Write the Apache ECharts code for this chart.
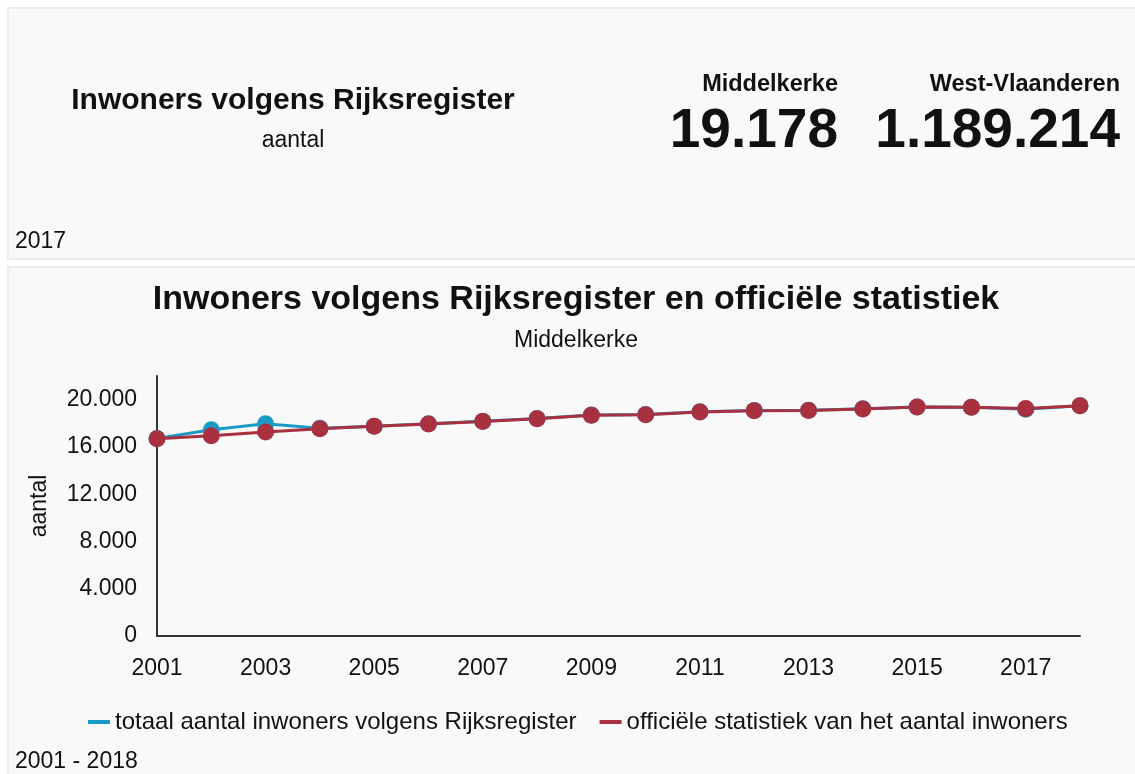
<!DOCTYPE html>
<html>
<head>
<meta charset="utf-8">
<script src="https://cdn.jsdelivr.net/npm/echarts@6/dist/echarts.min.js"></script>
<style>
  html, body { margin: 0; padding: 0; background: #fff; }
  #chart { width: 1135px; height: 774px; }
</style>
</head>
<body>
<div id="chart"></div>
<script>
var years = ['2001','2002','2003','2004','2005','2006','2007','2008','2009',
             '2010','2011','2012','2013','2014','2015','2016','2017','2018'];
// totaal aantal inwoners volgens Rijksregister
var rijksregister = [16720, 17450, 17950, 17580, 17750, 17950, 18180, 18410, 18690,
                     18750, 18970, 19080, 19100, 19220, 19385, 19355, 19178, 19490];
// officiele statistiek van het aantal inwoners
var officieel = [16700, 16950, 17260, 17540, 17740, 17940, 18160, 18390, 18670,
                 18730, 18950, 19070, 19090, 19210, 19380, 19350, 19240, 19490];
var kpiLabels = ['Middelkerke', 'West-Vlaanderen'];
var kpiValues = ['19.178', '1.189.214'];

var font = 'Liberation Sans, Arial, sans-serif';

function fmt(v) {
    return String(v).replace(/\B(?=(\d{3})+(?!\d))/g, '.');
}

// tekst met middelpunt op (x, y)
function txt(x, y, text, size, bold, align) {
    return {
        type: 'text', x: x, y: y + 2, z: 10,
        style: {
            text: text,
            font: (bold ? 'bold ' : '') + size + 'px ' + font,
            fill: '#111',
            align: align || 'center',
            verticalAlign: 'middle'
        }
    };
}

var chart = echarts.init(document.getElementById('chart'));
var option = {
    backgroundColor: '#ffffff',
    textStyle: { fontFamily: font },
    graphic: [
        { type: 'rect', z: -10, shape: { x: 8, y: 8, width: 1140, height: 251 },
          style: { fill: '#f9f9f9', stroke: '#ececec', lineWidth: 2 } },
        { type: 'rect', z: -10, shape: { x: 8, y: 267, width: 1140, height: 520 },
          style: { fill: '#f9f9f9', stroke: '#ececec', lineWidth: 2 } },
        txt(293, 99, 'Inwoners volgens Rijksregister', 30, true),
        txt(293, 139, 'aantal', 23, false),
        txt(838, 83, kpiLabels[0], 23.5, true, 'right'),
        txt(838, 130, kpiValues[0], 55, true, 'right'),
        txt(1120, 83, kpiLabels[1], 23.5, true, 'right'),
        txt(1120, 130, kpiValues[1], 55, true, 'right'),
        txt(15, 240, '2017', 23, false, 'left'),
        txt(576, 298, 'Inwoners volgens Rijksregister en officiële statistiek', 34, true),
        txt(576, 339, 'Middelkerke', 23, false),
        txt(15, 760, '2001 - 2018', 23, false, 'left')
    ],
    legend: {
        top: 705, left: 83, itemWidth: 22, itemHeight: 4, itemGap: 23,
        icon: 'rect',
        textStyle: { fontSize: 24, color: '#111', fontFamily: font },
        data: ['totaal aantal inwoners volgens Rijksregister', 'officiële statistiek van het aantal inwoners']
    },
    grid: { left: 157, right: 55, top: 376, bottom: 138 },
    xAxis: {
        type: 'category', boundaryGap: false, data: years,
        axisLine: { lineStyle: { color: '#333', width: 2 } },
        axisTick: { show: false },
        axisLabel: { interval: 1, fontSize: 23, color: '#111', margin: 21, fontFamily: font }
    },
    yAxis: {
        type: 'value', min: 0, max: 22000, interval: 4000,
        name: 'aantal', nameLocation: 'middle', nameGap: 106, nameRotate: 90,
        nameTextStyle: { fontSize: 23, color: '#111', fontFamily: font },
        axisLine: { show: true, lineStyle: { color: '#333', width: 2 } },
        axisTick: { show: false },
        splitLine: { show: false },
        axisLabel: { fontSize: 23, color: '#111', margin: 20, showMaxLabel: false,
                     fontFamily: font, formatter: fmt }
    },
    series: [
        { name: 'totaal aantal inwoners volgens Rijksregister', type: 'line',
          data: rijksregister, color: '#1a9bc7', symbol: 'circle', symbolSize: 17,
          lineStyle: { width: 3 } },
        { name: 'officiële statistiek van het aantal inwoners', type: 'line',
          data: officieel, color: '#a8303f', symbol: 'circle', symbolSize: 17,
          lineStyle: { width: 3 } }
    ]
};
chart.setOption(option);
</script>
</body>
</html>
